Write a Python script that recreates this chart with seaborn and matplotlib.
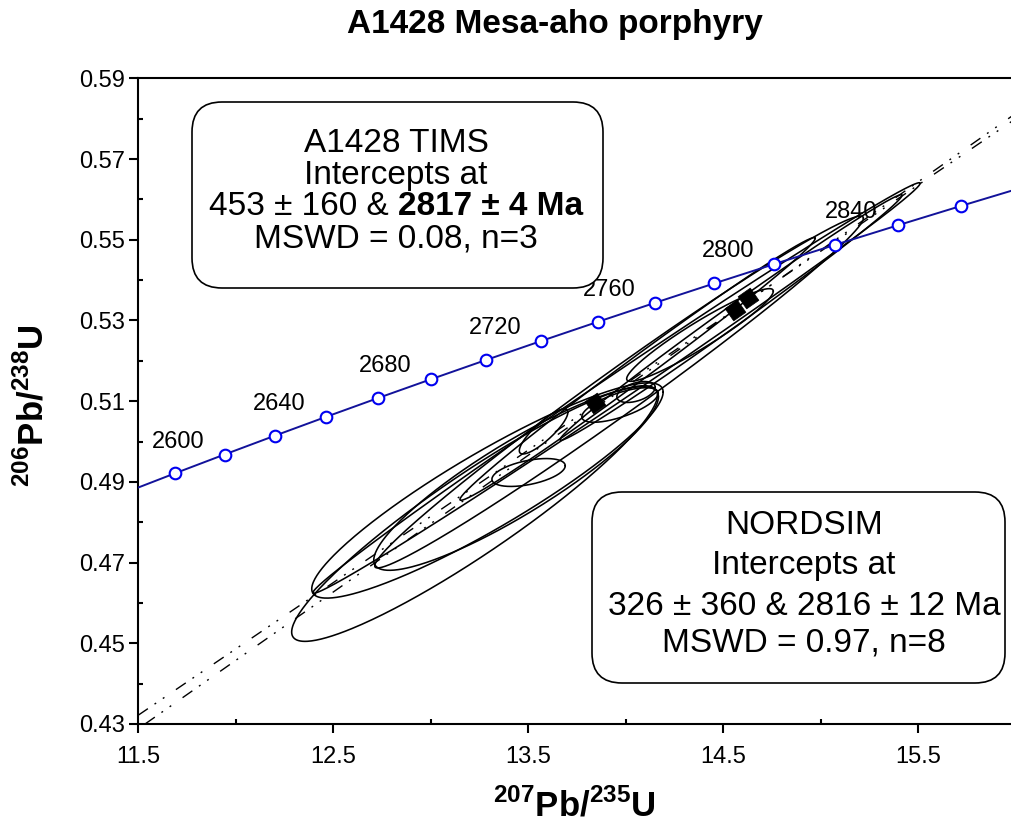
import numpy as np
import matplotlib
matplotlib.use("Agg")
import matplotlib.pyplot as plt
import seaborn as sns
from matplotlib.patches import FancyBboxPatch
from matplotlib.transforms import IdentityTransform

# ---------------- data ----------------
# concordia ticks (Ma) and their Wetherill coordinates
conc_age = [2560, 2580, 2600, 2620, 2640, 2660, 2680, 2700, 2720, 2740,
            2760, 2780, 2800, 2820, 2840, 2860, 2880]
conc_x = [11.4437, 11.6913, 11.9437, 12.2012, 12.4638, 12.7316, 13.0048, 13.2834,
          13.5675, 13.8573, 14.1528, 14.4543, 14.7617, 15.0752, 15.3950, 15.7211, 16.0537]
conc_y = [0.48753, 0.49216, 0.49679, 0.50144, 0.50611, 0.51079, 0.51548, 0.52019,
          0.52492, 0.52966, 0.53441, 0.53918, 0.54396, 0.54876, 0.55357, 0.55840, 0.56324]
label_ages = [2600, 2640, 2680, 2720, 2760, 2800, 2840]

# NORDSIM spot analyses: 207Pb/235U, 2s, 206Pb/238U, 2s, error correlation
ns_x = [13.226, 13.292, 13.439, 13.954, 13.967, 13.503, 13.580, 13.972, 14.054,
        14.382, 14.062, 14.541]
ns_ex = [0.938, 0.901, 0.730, 1.557, 1.253, 0.188, 0.1245, 0.196, 0.0984,
         0.376, 0.911, 0.877]
ns_y = [0.48216, 0.48787, 0.49084, 0.51327, 0.51228, 0.49233, 0.50249, 0.50906, 0.51228,
        0.52641, 0.5180, 0.53074]
ns_ey = [0.03168, 0.02667, 0.02275, 0.05087, 0.04360, 0.003456, 0.005576, 0.004278, 0.002595,
         0.011485, 0.03255, 0.03043]
ns_rho = [0.927, 0.914, 0.890, 0.997, 0.988, 0.481, 0.851, 0.683, 0.451,
          0.945, 0.994, 0.995]

# TIMS fractions
tims_x = [13.844, 14.562, 14.628]
tims_y = [0.5095, 0.5326, 0.5356]

# discordia intercept ages (Ma)
tims_int = [453, 2817]
ns_int = [326, 2816]

xticks = [11.5, 12.5, 13.5, 14.5, 15.5]
xminor = [12.0, 13.0, 14.0, 15.0, 16.0]
yticks = [0.43, 0.45, 0.47, 0.49, 0.51, 0.53, 0.55, 0.57, 0.59]
yminor = [0.44, 0.46, 0.48, 0.50, 0.52, 0.54, 0.56, 0.58]

LAM235 = 9.8485e-4  # per Ma
LAM238 = 1.55125e-4


def concordia_point(t):
    return np.expm1(LAM235 * t), np.expm1(LAM238 * t)


# ---------------- style ----------------
sns.set_theme(style="white")
plt.rcParams["font.family"] = ["Liberation Sans", "DejaVu Sans"]
plt.rcParams["mathtext.fontset"] = "custom"
plt.rcParams["mathtext.rm"] = "Liberation Sans"
plt.rcParams["mathtext.bf"] = "Liberation Sans:bold"
plt.rcParams["lines.scale_dashes"] = False
plt.rcParams["text.color"] = "black"
plt.rcParams["axes.labelcolor"] = "black"
plt.rcParams["xtick.color"] = "black"
plt.rcParams["ytick.color"] = "black"

W, H = 1011, 831
fig = plt.figure(figsize=(W / 100, H / 100), dpi=100)
ax = fig.add_axes([138 / W, 107 / H, 877.5 / W, 645.6 / H])

# concordia
sns.lineplot(x=conc_x, y=conc_y, ax=ax, color="#12129a", lw=1.4, sort=False,
             estimator=None, zorder=4)
sns.scatterplot(x=conc_x, y=conc_y, ax=ax, marker="o", s=70, facecolor="white",
                edgecolor="#0000f0", linewidth=1.5, zorder=5)
for age, cx, cy in zip(conc_age, conc_x, conc_y):
    if age in label_ages:
        ax.annotate(str(age), xy=(cx, cy), xytext=(-14.5, 5), textcoords="offset points",
                    ha="right", va="baseline", fontsize=17, color="black", zorder=6)

# error ellipses
t = np.linspace(0, 2 * np.pi, 361)
for x0, ex, y0, ey, r in zip(ns_x, ns_ex, ns_y, ns_ey, ns_rho):
    ex_ = x0 + ex * np.cos(t)
    ey_ = y0 + ey * (r * np.cos(t) + np.sqrt(1 - r * r) * np.sin(t))
    ax.plot(ex_, ey_, color="black", lw=1.15, zorder=3)

# discordia chords
dash = (0, (8.6, 5.8, 1.4, 5.8, 1.4, 10))
for ints in (tims_int, ns_int):
    p1 = concordia_point(ints[0])
    p2 = concordia_point(ints[1])
    ax.axline(p1, p2, color="black", lw=1.0, linestyle=dash, zorder=2)

# TIMS fractions (squares turned along the chord)
sns.scatterplot(x=tims_x, y=tims_y, ax=ax, marker=(4, 0, -10), s=230, color="black",
                edgecolor="black", linewidth=0.5, zorder=7)

# axes
ax.set_xlim(11.5, 16.0)
ax.set_ylim(0.43, 0.59)
ax.set_xticks(xticks)
ax.set_xticks(xminor, minor=True)
ax.set_yticks(yticks)
ax.set_yticks(yminor, minor=True)
ax.set_xticklabels([f"{v:.1f}" for v in xticks])
ax.set_yticklabels([f"{v:.2f}" for v in yticks])
ax.tick_params(which="major", direction="out", length=6.5, width=1.5, labelsize=17,
               color="black", labelcolor="black", bottom=True, left=True, top=False, right=False)
ax.tick_params(axis="x", which="major", pad=9)
ax.tick_params(axis="y", which="major", pad=3)
ax.tick_params(which="minor", direction="in", length=3.6, width=1.5, color="black",
               bottom=True, left=True, top=False, right=False)
for side in ("left", "bottom", "top", "right"):
    ax.spines[side].set_color("black")
    ax.spines[side].set_linewidth(1.5)
ax.grid(False)

# titles and axis labels
fig.text(555 / W, 1 - 24 / H, "A1428 Mesa-aho porphyry", ha="center", va="center",
         fontsize=24, fontweight="bold", color="black")
fig.text(574 / W, 1 - 806 / H, r"$^{\mathbf{207}}\mathbf{Pb/}^{\mathbf{235}}\mathbf{U}$",
         ha="center", va="center", fontsize=25, color="black")
fig.text(33 / W, 1 - 406 / H, r"$^{\mathbf{206}}\mathbf{Pb/}^{\mathbf{238}}\mathbf{U}$",
         ha="center", va="center", fontsize=25, rotation=90, color="black")

# result boxes
for (bx0, by0, bx1, by1) in [(192, 102, 603, 288), (592, 492, 1005, 683)]:
    fig.add_artist(FancyBboxPatch((bx0, H - by1), bx1 - bx0, by1 - by0,
                                  boxstyle="round,pad=0,rounding_size=30",
                                  transform=IdentityTransform(), facecolor="white",
                                  edgecolor="black", lw=1.2, zorder=5))

FS = 24


def line_text(cx, base, parts):
    """Centre a row of (text, weight) runs on a baseline in figure pixels."""
    r = fig.canvas.get_renderer()
    objs = []
    widths = []
    for s, wgt in parts:
        tt = fig.text(0, 0, s, fontsize=FS, fontweight=wgt, ha="left", va="baseline",
                      color="black", zorder=6)
        objs.append(tt)
        widths.append(tt.get_window_extent(r).width)
    sp = fig.text(0, 0, "a a", fontsize=FS)
    sp2 = fig.text(0, 0, "aa", fontsize=FS)
    gap = sp.get_window_extent(r).width - sp2.get_window_extent(r).width
    sp.remove()
    sp2.remove()
    total = sum(widths) + gap * (len(parts) - 1)
    x = cx - total / 2
    for tt, w in zip(objs, widths):
        tt.set_position((x / W, 1 - base / H))
        x += w + gap


line_text(396, 152, [("A1428 TIMS", "normal")])
line_text(396, 184, [("Intercepts at", "normal")])
line_text(396, 215, [("453 ± 160 &", "normal"), ("2817 ± 4 Ma", "bold")])
line_text(396, 247, [("MSWD = 0.08, n=3", "normal")])

line_text(804, 534, [("NORDSIM", "normal")])
line_text(804, 574, [("Intercepts at", "normal")])
line_text(804, 615, [("326 ± 360 & 2816 ± 12 Ma", "normal")])
line_text(804, 652, [("MSWD = 0.97, n=8", "normal")])

fig.savefig("out.png", dpi=100)
